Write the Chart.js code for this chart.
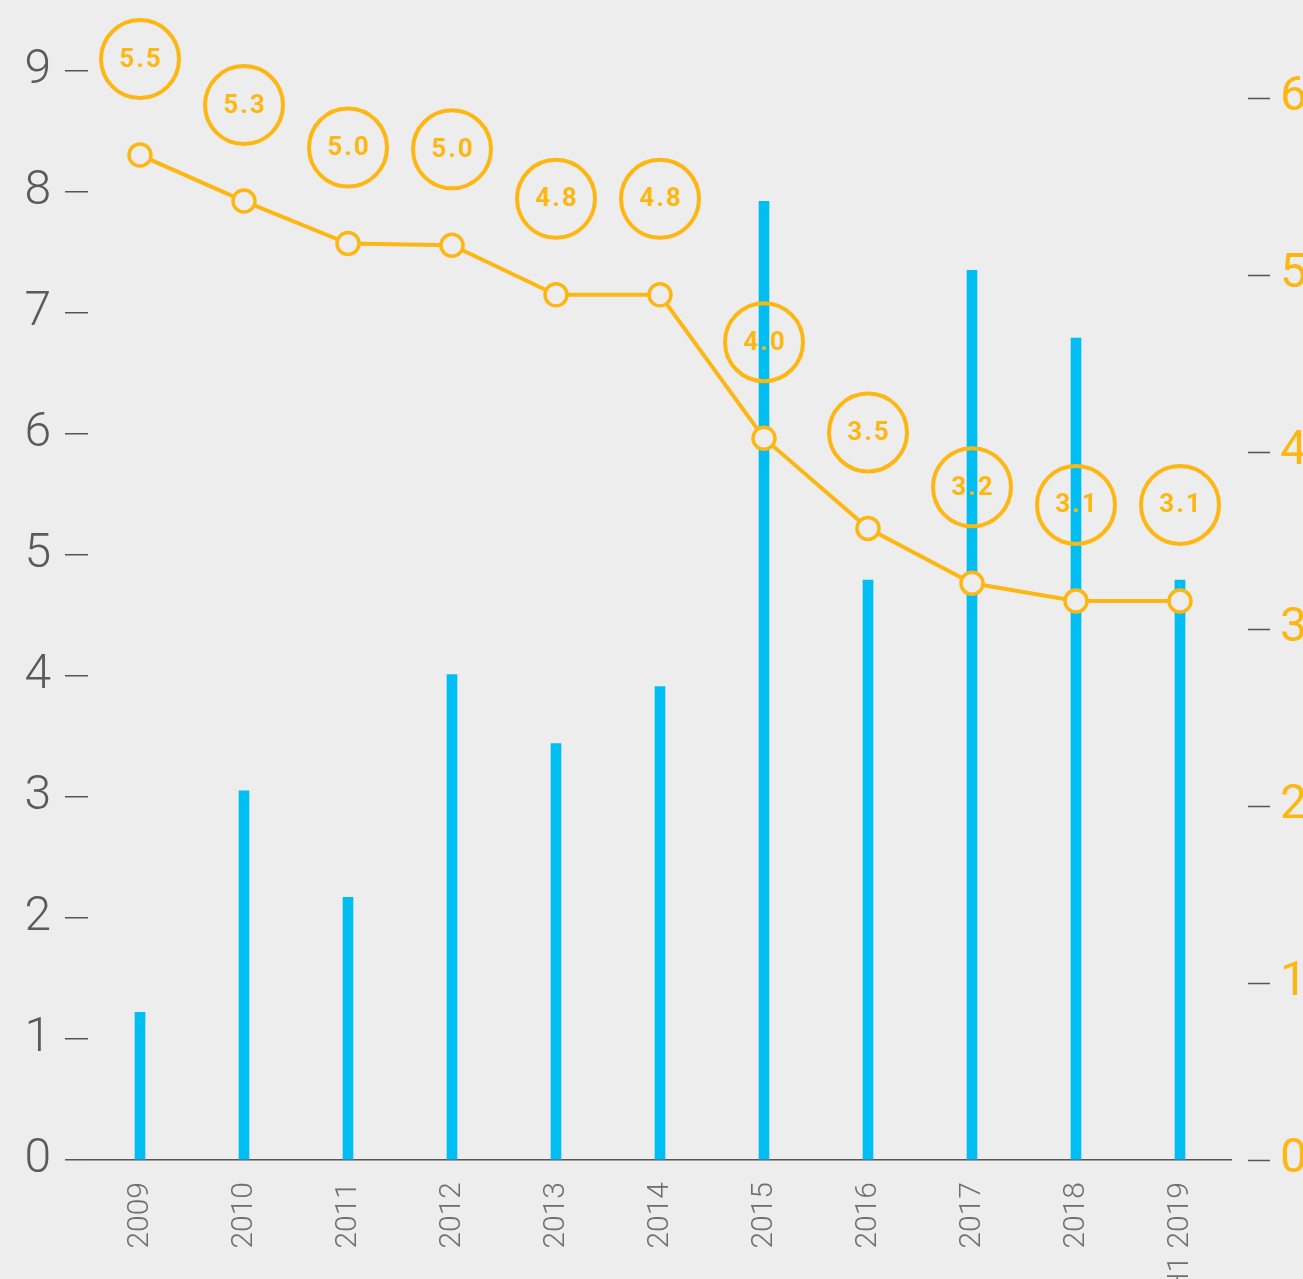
<!DOCTYPE html>
<html>
<head>
<meta charset="utf-8">
<script src="https://cdn.jsdelivr.net/npm/chart.js@4/dist/chart.umd.min.js"></script>
<style>
html,body{margin:0;padding:0;background:#EDEDED;overflow:hidden;}
canvas{display:block;}
</style>
</head>
<body>
<canvas id="c" width="1303" height="1279"></canvas>
<script>
const categories = ['2009','2010','2011','2012','2013','2014','2015','2016','2017','2018','H1 2019'];
const barValues = [1.22, 3.05, 2.17, 4.01, 3.44, 3.91, 7.92, 4.79, 7.35, 6.79, 4.79];
const lineValues = [5.68, 5.42, 5.18, 5.17, 4.89, 4.89, 4.08, 3.57, 3.26, 3.16, 3.16];
const lineLabels = ['5.5','5.3','5.0','5.0','4.8','4.8','4.0','3.5','3.2','3.1','3.1'];
const leftTicks = [0,1,2,3,4,5,6,7,8,9];
const rightTicks = [0,1,2,3,4,5,6];

const YELLOW = '#FDB714';
const CYAN = '#00BEF2';
const BG = '#EDEDED';

const circleLabels = {
  id: 'circleLabels',
  afterDatasetsDraw(chart) {
    const meta = chart.getDatasetMeta(0);
    const ctx = chart.ctx;
    ctx.save();
    meta.data.forEach((pt, i) => {
      const cx = pt.x, cy = pt.y - 96;
      ctx.beginPath();
      ctx.arc(cx, cy, 39, 0, Math.PI * 2);
      ctx.lineWidth = 4;
      ctx.strokeStyle = YELLOW;
      ctx.stroke();
      ctx.fillStyle = YELLOW;
      ctx.font = 'bold 26px Roboto';
      if ('letterSpacing' in ctx) ctx.letterSpacing = '2px';
      ctx.textAlign = 'center';
      ctx.textBaseline = 'middle';
      ctx.fillText(lineLabels[i], cx + 1, cy + 1);
    });
    ctx.restore();
  }
};

function noPad(s) { s.paddingTop = 0; s.paddingBottom = 0; }

new Chart(document.getElementById('c'), {
  data: {
    labels: categories,
    datasets: [
      {
        type: 'line',
        data: lineValues,
        yAxisID: 'y1',
        borderColor: YELLOW,
        borderWidth: 4,
        pointRadius: 11,
        pointBorderWidth: 3.5,
        pointBackgroundColor: BG,
        pointBorderColor: YELLOW,
        tension: 0,
        order: 0
      },
      {
        type: 'bar',
        data: barValues,
        yAxisID: 'y',
        backgroundColor: CYAN,
        barThickness: 10,
        order: 1
      }
    ]
  },
  options: {
    responsive: false,
    animation: false,
    layout: { autoPadding: false, padding: { top: 10, left: 0, right: 0, bottom: 0 } },
    plugins: { legend: { display: false }, tooltip: { enabled: false } },
    scales: {
      x: {
        grid: { display: false },
        border: { display: false },
        ticks: {
          minRotation: 90, maxRotation: 90, autoSkip: false,
          color: '#6e6e6e', padding: 14,
          font: { family: 'Roboto', size: 30, weight: '300' }
        },
        afterFit(s) { s.height = 119; s.paddingLeft = 0; s.paddingRight = 0; }
      },
      y: {
        position: 'left',
        min: 0, max: 9.5,
        afterBuildTicks(s) { s.ticks = leftTicks.map(v => ({ value: v })); },
        border: { display: false },
        grid: {
          drawOnChartArea: true,
          color: c => (c.tick && c.tick.value === 0) ? '#555' : 'rgba(0,0,0,0)',
          lineWidth: 1.5,
          tickColor: '#555',
          tickLength: 23,
          tickWidth: 1.5
        },
        ticks: {
          color: '#5a5a5a', padding: 14,
          font: { family: 'Roboto', size: 48, weight: '300' }
        },
        afterFit(s) { s.width = 88; noPad(s); }
      },
      y1: {
        position: 'right',
        min: 0, max: 6.5,
        afterBuildTicks(s) { s.ticks = rightTicks.map(v => ({ value: v })); },
        border: { display: false },
        grid: {
          drawOnChartArea: false,
          tickColor: '#555',
          tickLength: 38,
          tickWidth: 1.5,
          tickBorderDash: [0, 16, 22, 1000]
        },
        ticks: {
          color: YELLOW, padding: 10,
          font: { family: 'Roboto', size: 48, weight: '400' }
        },
        afterFit(s) { s.width = 71; noPad(s); }
      }
    }
  },
  plugins: [circleLabels]
});
</script>
</body>
</html>
